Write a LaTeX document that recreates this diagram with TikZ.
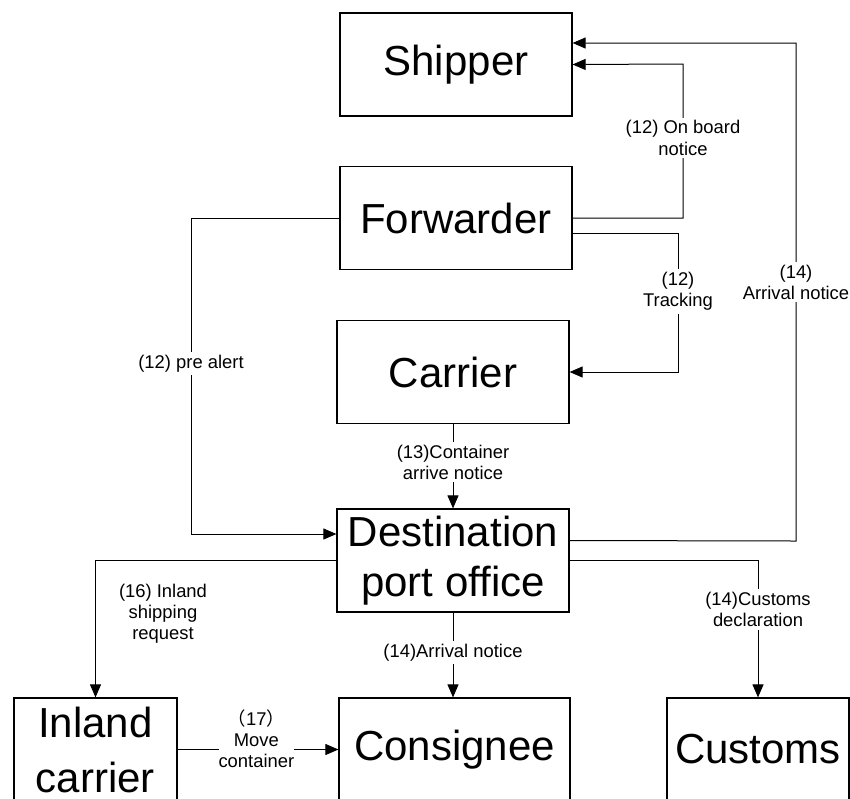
\documentclass[tikz,border=0pt]{standalone}
\usepackage{fontspec}
\setmainfont{Liberation Sans}
\newfontfamily\cjk{Noto Sans CJK SC}
\usepackage{tikz}
\usetikzlibrary{arrows.meta}

\begin{document}
\begin{tikzpicture}[x=0.5pt, y=-0.5pt,
    party/.style={shape=rectangle, draw, line width=0.6pt, inner sep=0pt, align=center,
      minimum width=116pt, minimum height=51.5pt, font=\fontsize{21}{25}\selectfont},
    lbl/.style={fill=white, inner sep=1.5pt, align=center, font=\fontsize{9.2}{10.6}\selectfont},
    arr/.style={line width=0.5pt, -{Triangle[length=6.5pt,width=5.5pt]}}]
    \useasboundingbox (0,0) rectangle (850,798);
    \clip (0,0) rectangle (850,798);

    \node[party] (shipper) at (456,64.5) {Shipper};
    \node[party] (fwd) at (456,218) {Forwarder};
    \node[party] (carrier) at (453,372) {Carrier};
    \node[party] (dest) at (453,560.5) {Destination\\port office};
    \node[party, minimum width=81.5pt, font=\fontsize{21}{27.5}\selectfont] (inland) at (95.5,749.5) {Inland\\carrier};
    \node[party, minimum width=115.5pt] (consignee) at (454.5,749.5) {Consignee};
    \node[party, minimum width=91pt] (customs) at (758,749.5) {Customs};

    % notices back to the shipper
    \draw[arr] (fwd.east) -- (683,218) -- node[lbl, pos=0.52]{(12) On board\\notice} (683,64) -- (shipper.east);
    \draw[arr] ([yshift=10pt]dest.east) -- (796,541) -- node[lbl, pos=0.52]{(14)\\Arrival notice} (796,43) -- ([yshift=10.75pt]shipper.east);

    % forwarder to carrier and destination
    \draw[arr] ([yshift=-7.5pt]fwd.east) -- (678,233) -- node[lbl, pos=0.42]{(12)\\Tracking} (678,372) -- (carrier.east);
    \draw[arr] (fwd.west) -- (191,218) -- node[lbl, pos=0.46]{(12) pre alert} (191,534) -- ([yshift=13.25pt]dest.west);
    \draw[arr] (carrier.south) -- node[lbl, pos=0.45]{(13)Container\\arrive notice} (dest.north);

    % from the destination port office
    \draw[arr] (dest.west) -| (inland.north);
    \node[lbl, fill=none] (request) at (163,614) {(16) Inland\\shipping\\request};
    \draw[arr] (dest.south) -- node[lbl, pos=0.47]{(14)Arrival notice} (dest.south |- consignee.north);
    \draw[arr] (dest.east) -| node[lbl, pos=0.68]{(14)Customs\\declaration} (customs.north);
    \draw[arr] (inland.east) -- node[lbl, pos=0.49, yshift=5.5pt, inner sep=0pt]{{\cjk （}17{\cjk ）}\\Move\\container} (consignee.west);
\end{tikzpicture}
\end{document}
